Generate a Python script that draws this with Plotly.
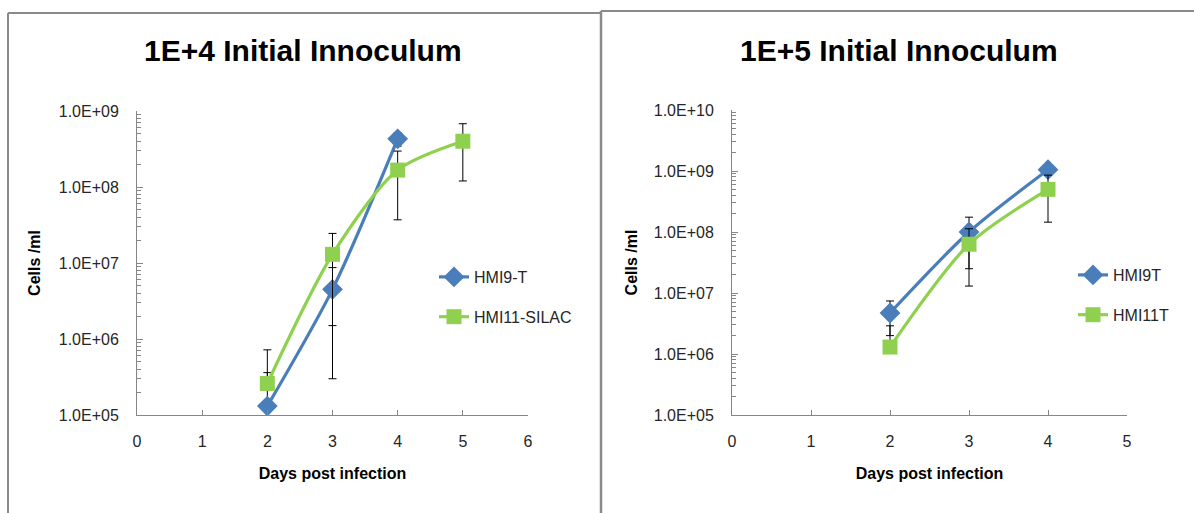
import plotly.graph_objects as go

# ---------------- data ----------------
days_left_a = [2, 3, 4]
hmi9t_left = [1.31e5, 4.5e6, 4.3e8]
hmi9t_left_err_plus = [2.3e5, 4.2e6, 8.5e7]
hmi9t_left_err_minus = [0, 4.2e6, 8.5e7]

days_left_b = [2, 3, 4, 5]
hmi11_left = [2.6e5, 1.3e7, 1.67e8, 4.0e8]
hmi11_left_err_plus = [4.6e5, 1.15e7, 1.3e8, 2.8e8]
hmi11_left_err_minus = [0, 1.15e7, 1.3e8, 2.8e8]

days_right = [2, 3, 4]
hmi9t_right = [4.7e6, 1.0e8, 1.05e9]
hmi9t_right_err_plus = [2.7e6, 7.5e7, 1.0e8]
hmi9t_right_err_minus = [2.7e6, 7.5e7, 1.0e8]
hmi11t_right = [1.3e6, 6.3e7, 5.0e8]
hmi11t_right_err_plus = [1.6e6, 5.0e7, 3.55e8]
hmi11t_right_err_minus = [0, 5.0e7, 3.55e8]

left_title = "1E+4 Initial Innoculum"
right_title = "1E+5 Initial Innoculum"
left_names = ["HMI9-T", "HMI11-SILAC"]
right_names = ["HMI9T", "HMI11T"]
x_title = "Days post infection"
y_title = "Cells /ml"
left_yticks = [1e5, 1e6, 1e7, 1e8, 1e9]
left_yticktext = ["1.0E+05", "1.0E+06", "1.0E+07", "1.0E+08", "1.0E+09"]
right_yticks = [1e5, 1e6, 1e7, 1e8, 1e9, 1e10]
right_yticktext = ["1.0E+05", "1.0E+06", "1.0E+07", "1.0E+08", "1.0E+09", "1.0E+10"]
left_xticks = [0, 1, 2, 3, 4, 5, 6]
right_xticks = [0, 1, 2, 3, 4, 5]

# ---------------- style ----------------
W, H = 1194, 513
BLUE = "#4a7ebb"
GREEN = "#8fd14f"
AXIS = "#868686"
FRAME = "#8a8a8a"
FONT = "Liberation Sans"


def px_x(p):
    return p / W


def px_y(p):
    return 1 - p / H


fig = go.Figure()


def add_series(x, y, ep, em, name, color, symbol, size, xa, ya, legend, group):
    fig.add_trace(go.Scatter(
        x=x, y=y, name=name, mode="lines+markers",
        line=dict(color=color, width=3.2, shape="spline", smoothing=0.8),
        marker=dict(symbol=symbol, size=size, color=color),
        error_y=dict(type="data", array=ep, arrayminus=em, symmetric=False,
                     color="black", thickness=1, width=4),
        xaxis=xa, yaxis=ya, legend=legend, legendgroup=group,
    ))


add_series(days_left_a, hmi9t_left, hmi9t_left_err_plus, hmi9t_left_err_minus,
           left_names[0], BLUE, "diamond", 16, "x", "y", "legend", "a")
add_series(days_left_b, hmi11_left, hmi11_left_err_plus, hmi11_left_err_minus,
           left_names[1], GREEN, "square", 15, "x", "y", "legend", "b")
add_series(days_right, hmi9t_right, hmi9t_right_err_plus, hmi9t_right_err_minus,
           right_names[0], BLUE, "diamond", 16, "x2", "y2", "legend2", "c")
add_series(days_right, hmi11t_right, hmi11t_right_err_plus, hmi11t_right_err_minus,
           right_names[1], GREEN, "square", 15, "x2", "y2", "legend2", "d")

tickfont = dict(family=FONT, size=16, color="#262626")
titlefont = dict(family=FONT, size=16, color="black", weight="bold")

common_x = dict(showline=True, linecolor=AXIS, linewidth=1, ticks="inside",
                ticklen=5, tickcolor=AXIS, showgrid=False, zeroline=False,
                tickfont=tickfont, title_font=titlefont, title_standoff=18,
                ticklabelstandoff=12, automargin=False, fixedrange=True)
common_y = dict(type="log", showline=True, linecolor=AXIS, linewidth=1,
                ticks="inside", ticklen=6, tickcolor=AXIS, showgrid=False,
                zeroline=False, tickfont=tickfont, title_font=titlefont,
                ticklabelstandoff=14, automargin=False,
                minor=dict(ticks="inside", ticklen=4, tickcolor=AXIS,
                           dtick="D1", showgrid=False),
                fixedrange=True)

fig.update_layout(
    width=W, height=H, margin=dict(l=0, r=0, t=0, b=0),
    paper_bgcolor="white", plot_bgcolor="white",
    xaxis=dict(domain=[px_x(137), px_x(528)], range=[0, 6], tickvals=left_xticks,
               title_text=x_title, anchor="y", **common_x),
    yaxis=dict(domain=[px_y(415), px_y(111)], range=[5, 9], tickvals=left_yticks,
               ticktext=left_yticktext, title_text=y_title, title_standoff=14,
               anchor="x", **common_y),
    xaxis2=dict(domain=[px_x(732), px_x(1127)], range=[0, 5], tickvals=right_xticks,
                title_text=x_title, anchor="y2", **common_x),
    yaxis2=dict(domain=[px_y(415), px_y(110)], range=[5, 10], tickvals=right_yticks,
                ticktext=right_yticktext, title_text=y_title, title_standoff=12,
                anchor="x2", **common_y),
    legend=dict(x=px_x(434), y=px_y(297), xanchor="left", yanchor="middle",
                font=dict(family=FONT, size=16, color="#262626"),
                bgcolor="rgba(0,0,0,0)", tracegroupgap=16),
    legend2=dict(x=px_x(1073), y=px_y(295), xanchor="left", yanchor="middle",
                 font=dict(family=FONT, size=16, color="#262626"),
                 bgcolor="rgba(0,0,0,0)", tracegroupgap=16),
    showlegend=True,
)

# titles
for txt, cx in [(left_title, 303), (right_title, 899)]:
    fig.add_annotation(text=txt, x=px_x(cx), y=px_y(50), xref="paper", yref="paper",
                       xanchor="center", yanchor="middle", showarrow=False,
                       font=dict(family=FONT, size=30, color="black", weight="bold"))

# panel frames
fig.add_shape(type="line", xref="paper", yref="paper", x0=px_x(8), x1=px_x(601),
              y0=px_y(13), y1=px_y(13), line=dict(color=FRAME, width=2))
fig.add_shape(type="line", xref="paper", yref="paper", x0=px_x(8), x1=px_x(8),
              y0=px_y(13), y1=0, line=dict(color=FRAME, width=2))
fig.add_shape(type="line", xref="paper", yref="paper", x0=px_x(601), x1=px_x(601),
              y0=px_y(11), y1=0, line=dict(color=FRAME, width=2.5))
fig.add_shape(type="line", xref="paper", yref="paper", x0=px_x(601), x1=1,
              y0=px_y(11), y1=px_y(11), line=dict(color=FRAME, width=2))

fig.write_html("out.html", config={"displayModeBar": False},
               post_script="document.body.style.margin='0';")
